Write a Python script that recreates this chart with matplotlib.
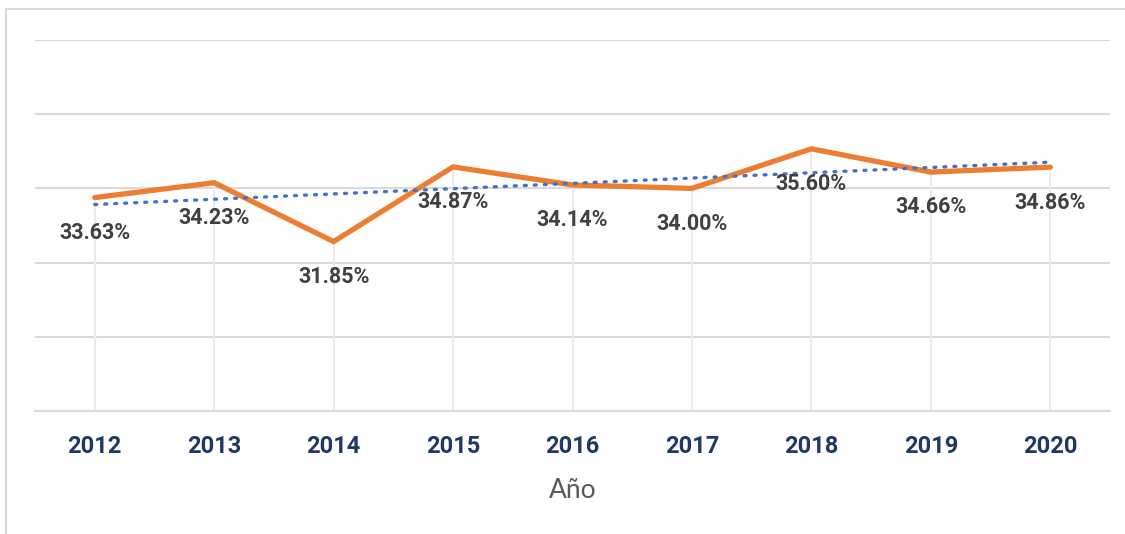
import matplotlib
matplotlib.use("Agg")
import matplotlib.pyplot as plt
from matplotlib.patches import Rectangle
import numpy as np

years = ["2012", "2013", "2014", "2015", "2016", "2017", "2018", "2019", "2020"]
values = [33.63, 34.23, 31.85, 34.87, 34.14, 34.00, 35.60, 34.66, 34.86]
labels = ["33.63%", "34.23%", "31.85%", "34.87%", "34.14%", "34.00%", "35.60%", "34.66%", "34.86%"]
axis_title = "Año"

W, H = 1125, 534
fig = plt.figure(figsize=(W / 100, H / 100), dpi=100)
fig.patch.set_facecolor("white")

# chart border (cropped at right and bottom)
fig.patches.append(Rectangle((6 / W, -0.2), 1.5, (H - 9) / H + 0.2, transform=fig.transFigure,
                             fill=False, edgecolor="#D9D9D9", linewidth=1.5, clip_on=False))

ax = fig.add_axes([35 / W, (H - 411) / H, 1075 / W, 371 / H])
x = np.arange(len(years))
ymin, ymax = 25, 40
ax.set_xlim(-0.5, len(years) - 0.5)
ax.set_ylim(ymin, ymax)
ax.set_yticks(np.arange(25, 40.1, 3))
ax.yaxis.grid(True, color="#D9D9D9", linewidth=1.5)
ax.set_axisbelow(True)
for s in ["top", "right", "left"]:
    ax.spines[s].set_visible(False)
ax.spines["bottom"].set_color("#D9D9D9")
ax.spines["bottom"].set_linewidth(1.5)
ax.tick_params(axis="y", left=False, labelleft=False)
ax.tick_params(axis="x", bottom=False, pad=14)

# drop lines
ax.vlines(x, ymin, values, colors="#EBEBEB", linewidth=1.5, zorder=1)

# main series
ax.plot(x, values, color="#ED7D31", linewidth=3.8, solid_capstyle="round", solid_joinstyle="miter", zorder=3)

# linear trend line
coef = np.polyfit(x, values, 1)
trend = np.polyval(coef, x)
ax.plot(x, trend, color="#4472C4", linewidth=2.4, linestyle=(0, (0.6, 2.4)),
        dash_capstyle="round", zorder=4)

bold_font = ["Roboto", "DejaVu Sans"]

# data labels
for xi, v, lab in zip(x, values, labels):
    ax.annotate(lab, (xi, v), xytext=(0, -25.5), textcoords="offset points",
                ha="center", va="center", fontsize=15.5, fontweight="bold",
                color="#404040", family=bold_font, zorder=5)

ax.set_xticks(x)
ax.set_xticklabels(years, fontsize=17, fontweight="bold", color="#1F3864",
                   family=bold_font)

fig.text(573 / W, 1 - 490 / H, axis_title, ha="center", va="center", fontsize=19,
         color="#595959", family=["Lato", "DejaVu Sans"])

fig.savefig("out.png", dpi=100)
